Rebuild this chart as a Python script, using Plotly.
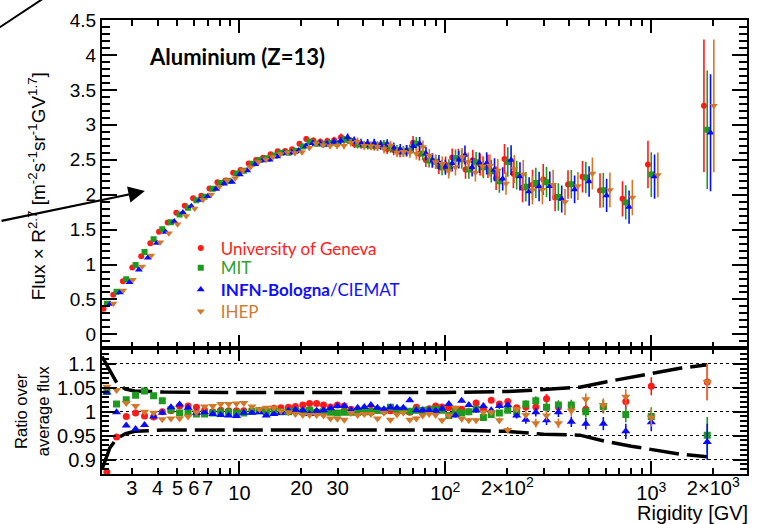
import math
import plotly.graph_objects as go

# Rigidity bin positions [GV]
rigidity = [2.27, 2.53, 2.82, 3.13, 3.46, 3.83, 4.22, 4.65, 5.12, 5.63,
            6.18, 6.77, 7.42, 8.11, 8.86, 9.67, 10.5, 11.5, 12.5, 13.5,
            14.7, 15.9, 17.3, 18.7, 20.3, 21.9, 23.7, 25.6, 27.7, 29.9,
            32.3, 34.8, 37.5, 40.4, 43.5, 46.8, 50.3, 54.1, 58.2, 62.5,
            67.2, 72.3, 77.6, 83.4, 89.7, 96.4, 104, 112, 120, 130,
            141, 153, 167, 183, 201, 222, 246, 275, 310, 354,
            409, 481, 585, 752, 1000, 1870]

# Average flux x R^2.7 of the four analyses
avg_flux = [0.42, 0.60, 0.77, 0.96, 1.13, 1.32, 1.47, 1.60, 1.72, 1.82,
            1.93, 1.98, 2.09, 2.17, 2.20, 2.31, 2.35, 2.44, 2.49, 2.52,
            2.56, 2.60, 2.60, 2.62, 2.69, 2.75, 2.73, 2.72, 2.74, 2.74,
            2.79, 2.77, 2.72, 2.71, 2.70, 2.69, 2.71, 2.65, 2.63, 2.61,
            2.63, 2.72, 2.58, 2.48, 2.46, 2.38, 2.41, 2.52, 2.51, 2.36,
            2.45, 2.42, 2.35, 2.20, 2.46, 2.28, 2.08, 2.12, 2.16, 1.94,
            2.12, 2.245, 2.04, 1.90, 2.31, 3.08]

# Ratio of each analysis to the average flux
ratio_geneva = [0.874, 0.947, 0.990, 0.997, 0.991, 0.989, 1.000, 1.002, 1.012, 1.012,
                1.009, 1.003, 1.000, 1.003, 1.002, 1.002, 1.002, 1.002, 1.003, 1.003,
                1.007, 1.008, 1.009, 1.011, 1.014, 1.017, 1.017, 1.014, 1.010, 1.014,
                1.012, 1.005, 1.002, 1.003, 1.003, 1.003, 1.002, 1.002, 1.003, 1.002,
                0.999, 1.009, 1.002, 1.006, 1.012, 1.010, 1.008, 1.005, 1.005, 1.000,
                1.018, 1.005, 1.024, 1.016, 1.021, 1.008, 1.010, 1.010, 1.027, 1.010,
                1.012, 1.005, 1.010, 1.021, 1.053, 1.062]
ratio_mit = [1.042, 1.016, 1.025, 1.034, 1.043, 1.033, 1.023, 1.004, 0.997, 0.997,
             0.995, 0.995, 0.997, 0.999, 0.999, 0.997, 0.997, 1.001, 1.002, 1.000,
             1.000, 1.000, 1.000, 1.002, 1.000, 1.003, 0.999, 1.000, 0.999, 0.997,
             0.999, 0.999, 0.999, 1.000, 1.000, 1.003, 1.002, 1.009, 1.003, 1.003,
             1.001, 1.003, 1.003, 1.003, 1.005, 1.003, 0.992, 1.000, 0.997, 1.000,
             1.005, 0.988, 0.994, 0.997, 1.003, 1.000, 1.016, 1.023, 1.009, 1.014,
             1.014, 1.000, 1.011, 0.994, 0.990, 0.951]
ratio_infn = [1.040, 0.999, 0.971, 0.964, 0.972, 0.990, 0.998, 1.009, 1.015, 1.008,
              0.997, 0.999, 0.995, 0.993, 0.992, 0.991, 0.998, 0.998, 0.999, 0.992,
              0.995, 0.998, 1.002, 1.004, 1.003, 0.995, 1.002, 1.003, 1.007, 1.012,
              1.012, 1.003, 1.008, 1.010, 1.014, 1.008, 1.005, 1.009, 1.008, 1.008,
              1.024, 1.003, 1.003, 1.003, 1.002, 1.006, 1.016, 0.992, 1.023, 1.014,
              1.003, 1.012, 1.003, 1.012, 1.014, 0.992, 0.983, 0.999, 0.982, 0.999,
              0.979, 0.975, 0.975, 0.959, 0.978, 0.937]
ratio_ihep = [1.052, 1.045, 1.018, 1.012, 1.000, 0.998, 0.984, 0.986, 0.986, 0.990,
              0.999, 1.011, 1.012, 1.016, 1.016, 1.017, 1.018, 1.011, 1.005, 1.008,
              1.008, 1.002, 0.999, 0.995, 0.993, 0.993, 0.993, 0.992, 0.986, 0.985,
              0.983, 0.997, 0.993, 0.995, 0.995, 0.986, 0.998, 0.983, 0.994, 0.998,
              0.983, 0.986, 0.992, 0.995, 0.993, 0.982, 0.992, 1.008, 0.985, 0.982,
              0.982, 0.999, 0.999, 0.982, 0.962, 1.005, 0.993, 0.976, 0.992, 0.976,
              1.002, 1.026, 1.014, 1.031, 0.988, 1.062]

# Relative flux uncertainty and ratio uncertainty per bin
flux_rel_err = [0.006, 0.006, 0.006, 0.006, 0.006, 0.006, 0.006, 0.006, 0.006, 0.007,
                0.007, 0.007, 0.008, 0.008, 0.008, 0.009, 0.009, 0.010, 0.010, 0.011,
                0.012, 0.012, 0.013, 0.013, 0.014, 0.015, 0.015, 0.016, 0.017, 0.018,
                0.019, 0.020, 0.021, 0.022, 0.023, 0.024, 0.025, 0.027, 0.028, 0.030,
                0.032, 0.035, 0.037, 0.040, 0.042, 0.045, 0.048, 0.050, 0.053, 0.056,
                0.060, 0.065, 0.070, 0.075, 0.085, 0.090, 0.100, 0.100, 0.100, 0.100,
                0.095, 0.100, 0.120, 0.130, 0.140, 0.290]
ratio_err = [0.002, 0.002, 0.002, 0.002, 0.002, 0.002, 0.002, 0.002, 0.002, 0.002,
             0.002, 0.002, 0.002, 0.002, 0.002, 0.002, 0.002, 0.002, 0.002, 0.002,
             0.003, 0.003, 0.003, 0.003, 0.003, 0.003, 0.003, 0.003, 0.003, 0.003,
             0.003, 0.003, 0.003, 0.003, 0.003, 0.003, 0.003, 0.003, 0.003, 0.003,
             0.004, 0.004, 0.004, 0.004, 0.004, 0.004, 0.004, 0.004, 0.004, 0.005,
             0.005, 0.005, 0.005, 0.006, 0.006, 0.006, 0.008, 0.009, 0.010, 0.010,
             0.011, 0.012, 0.014, 0.016, 0.019, 0.038]

# Uncertainty band on the ratio
band_rigidity = [2.15, 2.35, 2.55, 2.8, 3.1, 4.3, 10, 100, 200, 300, 450, 600, 800, 1000, 1400, 1870]
band_upper = [1.115, 1.085, 1.058, 1.047, 1.043, 1.041, 1.040, 1.040, 1.042, 1.046, 1.051, 1.062, 1.072, 1.080, 1.091, 1.098]
band_lower = [0.880, 0.925, 0.945, 0.954, 0.959, 0.962, 0.962, 0.962, 0.959, 0.953, 0.951, 0.938, 0.928, 0.921, 0.911, 0.906]

# Axis tick labels
decade_ticks = [10, 100, 1000]
decade_labels = ["10", "10<sup>2</sup>", "10<sup>3</sup>"]
extra_ticks = [3, 4, 5, 6, 7, 20, 30, 200, 2000]
extra_labels = ["3", "4", "5", "6", "7", "20", "30", "2\u00d710<sup>2</sup>", "2\u00d710<sup>3</sup>"]
minor_ticks = [m * 10 ** e for e in range(0, 4) for m in range(2, 10)]
ratio_ticks = [0.9, 0.95, 1.0, 1.05, 1.1]
ratio_labels = ["0.9", "0.95", "1", "1.05", "1.1"]

# name, ratio, colour, symbol, marker size, x shift (decades), legend id, legend row (paper y)
groups = [
    ("<span style='color:#ff2020'>University of Geneva</span>", ratio_geneva, "#ff1a1a", "circle", 6, -0.016, "legend", 0.4968),
    ("<span style='color:#30a030'>MIT</span>", ratio_mit, "#1e9b1e", "square", 6, 0.0, "legend2", 0.4532),
    ("<span style='color:#1010ff'><b>INFN-Bologna</b>/CIEMAT</span>", ratio_infn, "#0a0aff", "triangle-up", 7, 0.016, "legend3", 0.4053),
    ("<span style='color:#d07a30'>IHEP</span>", ratio_ihep, "#d2782a", "triangle-down", 7, 0.032, "legend4", 0.3573),
]

fig = go.Figure()

# ratio uncertainty band
for band in (band_upper, band_lower):
    fig.add_trace(go.Scatter(
        x=band_rigidity, y=band, mode="lines", xaxis="x2", yaxis="y2",
        line=dict(color="black", width=3.5, dash="30px,8px"),
        showlegend=False, hoverinfo="skip"))

legend_layouts = {}
for name, ratio, color, symbol, msize, shift, leg, leg_y in groups:
    flux = [a * r for a, r in zip(avg_flux, ratio)]
    fig.add_trace(go.Scatter(
        x=[R * 10 ** shift for R in rigidity], y=flux, mode="markers",
        xaxis="x", yaxis="y", name=name, legend=leg,
        marker=dict(color=color, symbol=symbol, size=msize, line=dict(width=0)),
        error_y=dict(type="data", array=[f * e for f, e in zip(flux, flux_rel_err)],
                     color=color, thickness=1.6, width=0)))
    fig.add_trace(go.Scatter(
        x=rigidity, y=ratio, mode="markers", xaxis="x3", yaxis="y2",
        showlegend=False,
        marker=dict(color=color, symbol=symbol, size=msize + 1, line=dict(width=0)),
        error_y=dict(type="data", array=ratio_err, color=color, thickness=1.6, width=0)))
    legend_layouts[leg] = dict(x=0.1221, y=leg_y, xanchor="left", yanchor="middle",
                               bgcolor="rgba(0,0,0,0)", borderwidth=0,
                               font=dict(family="Lato, Open Sans, sans-serif", size=17))

xrange = [math.log10(2.15), math.log10(2917)]
y_split = 0.2767
tick_font = dict(family="Liberation Sans, Arial, sans-serif", size=20, color="black")

base_x = dict(type="log", range=xrange, showgrid=False, zeroline=False,
              linecolor="black", linewidth=2, mirror="ticks",
              ticks="inside", ticklen=13, tickwidth=1.5, tickcolor="black",
              tickmode="array", tickvals=decade_ticks,
              minor=dict(tickmode="array", tickvals=minor_ticks, ticks="inside",
                         ticklen=6, tickwidth=1.5, tickcolor="black", showgrid=False))

fig.update_layout(
    width=759, height=524,
    margin=dict(l=102, r=10, t=15, b=50),
    paper_bgcolor="white", plot_bgcolor="white",
    xaxis=dict(base_x, anchor="y", showticklabels=False),
    xaxis2=dict(base_x, anchor="y2", ticktext=decade_labels, tickfont=tick_font),
    xaxis3=dict(type="log", range=xrange, overlaying="x2", anchor="y2",
                showgrid=False, zeroline=False, showline=False, ticks="",
                tickmode="array", tickvals=extra_ticks, ticktext=extra_labels,
                tickfont=tick_font),
    yaxis=dict(domain=[y_split, 1], anchor="x", range=[-0.2, 4.5],
               tickmode="linear", tick0=0, dtick=0.5, showgrid=False, zeroline=False,
               linecolor="black", linewidth=2, mirror="ticks",
               ticks="inside", ticklen=15, tickwidth=1.5, tickcolor="black",
               tickfont=dict(family="Liberation Sans, Arial, sans-serif", size=19, color="black"),
               minor=dict(tickmode="linear", tick0=0, dtick=0.1, ticks="inside",
                          ticklen=8, tickwidth=1.5, tickcolor="black", showgrid=False)),
    yaxis2=dict(domain=[0, y_split], anchor="x2", range=[0.87, 1.132],
                tickmode="array", tickvals=ratio_ticks, ticktext=ratio_labels,
                showgrid=True, gridcolor="black", gridwidth=1, griddash="dot",
                zeroline=False, linecolor="black", linewidth=2, mirror="ticks",
                ticks="inside", ticklen=14, tickwidth=1.5, tickcolor="black",
                tickfont=tick_font,
                minor=dict(tickmode="linear", tick0=0, dtick=0.01, ticks="inside",
                           ticklen=7, tickwidth=1.5, tickcolor="black", showgrid=False)),
    showlegend=True,
    **legend_layouts,
)

fig.add_annotation(text="<b>Aluminium (Z=13)</b>", x=0.2087, y=0.9194, xref="paper", yref="paper",
                   xanchor="center", yanchor="middle", showarrow=False,
                   font=dict(family="Lato, Open Sans, sans-serif", size=22, color="black"))
fig.add_annotation(text="Flux \u00d7 R<sup>2.7</sup> [m<sup>-2</sup>s<sup>-1</sup>sr<sup>-1</sup>GV<sup>1.7</sup>]",
                   x=-0.1005, y=0.634, xref="paper", yref="paper", textangle=-90,
                   xanchor="center", yanchor="middle", showarrow=False,
                   font=dict(family="Liberation Sans, Arial, sans-serif", size=19, color="black"))
fig.add_annotation(text="Ratio over<br>average flux", x=-0.108, y=0.139, xref="paper", yref="paper",
                   textangle=-90, xanchor="center", yanchor="middle", showarrow=False,
                   font=dict(family="Liberation Sans, Arial, sans-serif", size=16.5, color="black"))
fig.add_annotation(text="Rigidity [GV]", x=1.0046, y=-0.085, xref="paper", yref="paper",
                   xanchor="right", yanchor="middle", showarrow=False,
                   font=dict(family="Liberation Sans, Arial, sans-serif", size=20, color="black"))

# pointer arrow and corner stroke
fig.add_annotation(text="", x=0.0665, y=0.6231, xref="paper", yref="paper",
                   ax=-160, ay=30, showarrow=True, arrowhead=2, arrowsize=1.5,
                   arrowwidth=2.2, arrowcolor="black", standoff=0)
fig.add_shape(type="line", xref="paper", yref="paper",
              x0=-0.1731, y0=0.9702, x1=-0.0881, y1=1.0501,
              line=dict(color="black", width=2))

fig.write_html("out.html")
